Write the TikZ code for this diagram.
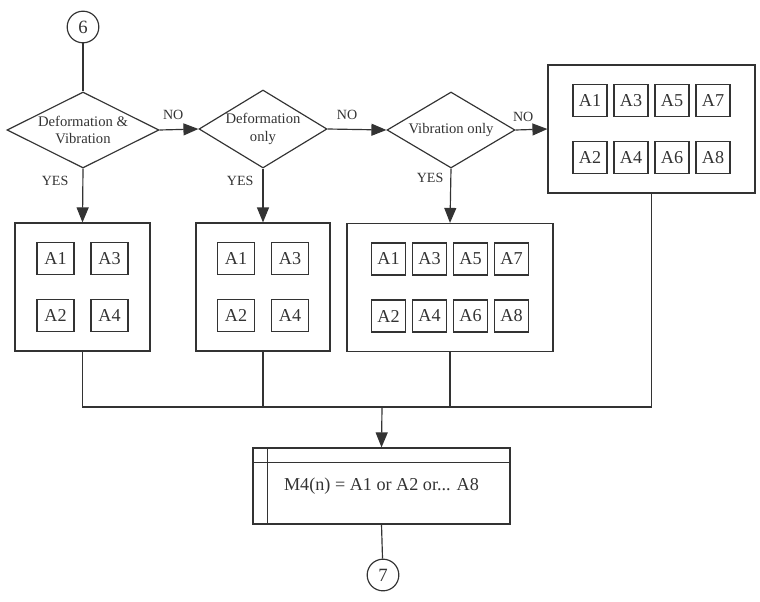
\documentclass[tikz,border=0pt]{standalone}
\usepackage{fontspec}
\setmainfont{Liberation Serif}
\usetikzlibrary{calc}
\usetikzlibrary{shapes.geometric}
\usetikzlibrary{arrows.meta}

\begin{document}
\begin{tikzpicture}[x=0.3mm,y=-0.3mm,black!80,line width=1pt,
  connector/.style={draw,circle,minimum size=9.5mm,inner sep=0pt,font=\fontsize{16}{18}\selectfont},
  test/.style={draw,diamond,inner sep=0pt,align=center,font=\fontsize{12.5}{15}\selectfont},
  group/.style={draw,rectangle,inner sep=0pt,minimum height=38.4mm},
  item/.style={draw,rectangle,inner sep=0pt,minimum width=#1,minimum height=9.6mm,font=\fontsize{15.5}{17}\selectfont},
  lab/.style={font=\fontsize{12}{14}\selectfont},
  flow/.style={-{Triangle[length=4.5mm,width=3.6mm]}}]

\useasboundingbox (0,0) rectangle (760,601);

\node[connector] (c6) at (83,27) {6};
\node[test,minimum width=45.6mm,minimum height=22.8mm,shape aspect=2] (d1) at (83,130) {Deformation \&\\Vibration};
\node[test,minimum width=38.4mm,minimum height=23.4mm,shape aspect=1.64] (d2) at (263,129) {Deformation\\only};
\node[test,minimum width=38.4mm,minimum height=22.8mm,shape aspect=1.68] (d3) at (451,130) {Vibration only};

\node[group,minimum width=40.5mm] (g1) at (82.5,287) {};
\node[group,minimum width=40.2mm] (g2) at (263,287) {};
\node[group,minimum width=61.8mm] (g3) at (450,287.5) {};
\node[group,minimum width=62.1mm] (g4) at (651.5,129) {};

% A-boxes, odd numbers on top, even below
\foreach \g/\c/\s/\w in {g1/1/54/11.1mm,g2/1/54/11.1mm,g3/3/41/10.2mm,g4/3/41/10.2mm} {
  \foreach \k in {0,...,\c} {
    \pgfmathtruncatemacro\n{2*\k+1}
    \pgfmathtruncatemacro\m{2*\k+2}
    \node[item=\w] (\g-a\n) at ($(\g)+({(\k-\c/2)*\s},-28.5)$) {A\n};
    \node[item=\w] (\g-a\m) at ($(\g)+({(\k-\c/2)*\s},28.5)$) {A\m};
  }
}

\node[draw,inner sep=0pt,minimum width=77.1mm,minimum height=22.8mm,font=\fontsize{15.5}{17}\selectfont] (m4) at (381.5,486) {M4(n) = A1 or A2 or... A8};
\draw ([yshift=-4.5mm]m4.north west) -- ([yshift=-4.5mm]m4.north east);
\draw ([xshift=4.5mm]m4.north west) -- ([xshift=4.5mm]m4.south west);
\node[connector] (c7) at (383,575) {7};
\coordinate (j) at (382,407);

\draw (c6) -- (d1.north);
\draw[flow] (d1.east) -- (d2.west) node[lab,above=1.6mm,pos=0.35] {NO};
\draw[flow] (d2.east) -- (d3.west) node[lab,above=1.6mm,pos=0.33] {NO};
\draw[flow] (d3.east) -- (g4.west) node[lab,above=1mm,pos=0.24] {NO};
\draw[flow] (d1.south) -- (g1.north) node[lab,left=3mm,pos=0.22] {YES};
\draw[flow] (d2.south) -- (g2.north) node[lab,left=1.5mm,pos=0.22] {YES};
\draw[flow] (d3.south) -- (g3.north) node[lab,left=0.9mm,pos=0.18] {YES};

\draw (g1.south) |- (j);
\draw (g2.south) -- (g2.south |- j);
\draw (g3.south) -- (g3.south |- j);
\draw (g4.south) |- (j);
\draw[flow] (j) -- (m4.north);
\draw (m4.south) -- (c7);

\end{tikzpicture}
\end{document}
